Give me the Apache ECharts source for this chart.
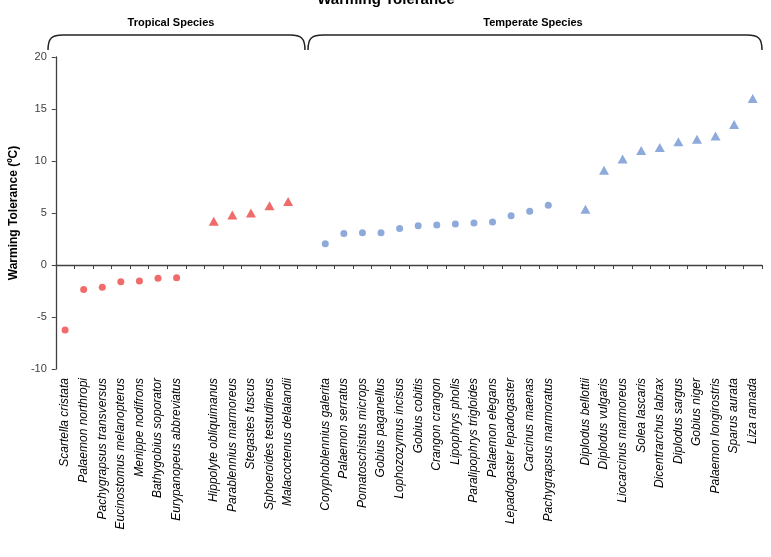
<!DOCTYPE html>
<html>
<head>
<meta charset="utf-8">
<script src="https://cdn.jsdelivr.net/npm/echarts@6/dist/echarts.min.js"></script>
<style>html,body{margin:0;padding:0;background:#fff}#c{width:771px;height:557px}</style>
</head>
<body>
<div id="c"></div>
<script>
// ---- data ----
const tropicalCircleSpecies = ['Scartella cristata','Palaemon northropi','Pachygrapsus transversus','Eucinostomus melanopterus','Menippe nodifrons','Bathygobius soporator','Eurypanopeus abbreviatus'];
const tropicalCircleValues = [-6.25, -2.35, -2.15, -1.62, -1.55, -1.28, -1.22];
const tropicalTriangleSpecies = ['Hippolyte obliquimanus','Parablennius marmoreus','Stegastes fuscus','Sphoeroides testudineus','Malacoctenus delalandii'];
const tropicalTriangleValues = [4.2, 4.8, 5.0, 5.7, 6.1];
const temperateCircleSpecies = ['Coryphoblennius galerita','Palaemon serratus','Pomatoschistus microps','Gobius paganellus','Lophozozymus incisus','Gobius cobitis','Crangon crangon','Lipophrys pholis','Paralipophrys trigloides','Palaemon elegans','Lepadogaster lepadogaster','Carcinus maenas','Pachygrapsus marmoratus'];
const temperateCircleValues = [2.05, 3.02, 3.1, 3.1, 3.5, 3.78, 3.85, 3.94, 4.04, 4.13, 4.74, 5.16, 5.74];
const temperateTriangleSpecies = ['Diplodus bellottii','Diplodus vulgaris','Liocarcinus marmoreus','Solea lascaris','Dicentrarchus labrax','Diplodus sargus','Gobius niger','Palaemon longirostris','Sparus aurata','Liza ramada'];
const temperateTriangleValues = [5.35, 9.1, 10.2, 11.0, 11.3, 11.85, 12.1, 12.4, 13.5, 16.0];
const yTicks = {min: -10, max: 20, interval: 5};
const groupLabels = ['Tropical Species', 'Temperate Species'];
const chartTitle = 'Warming Tolerance';
const yTitle = 'Warming Tolerance (ºC)';

// ---- build categories with a blank slot between groups ----
const groups = [
  [tropicalCircleSpecies, tropicalCircleValues],
  [tropicalTriangleSpecies, tropicalTriangleValues],
  [temperateCircleSpecies, temperateCircleValues],
  [temperateTriangleSpecies, temperateTriangleValues]
];
const categories = [];
const seriesData = [];
groups.forEach((g, gi) => {
  if (gi > 0) categories.push(' '.repeat(gi));
  const d = [];
  g[0].forEach((name, i) => { d.push([categories.length, g[1][i]]); categories.push(name); });
  seriesData.push(d);
});

const RED = '#EE4646';
const BLUE = '#7095D2';
const TRI = 'triangle';
const AXIS = '#404040';

function brace(x1, x2, yTop, yBot) {
  const st = {stroke: '#222', lineWidth: 1.5, fill: null};
  return [
    {type: 'bezierCurve', shape: {x1: x1, y1: yBot, cpx1: x1, cpy1: yTop + 3, cpx2: x1 + 4, cpy2: yTop, x2: x1 + 15, y2: yTop}, style: st},
    {type: 'line', shape: {x1: x1 + 15, y1: yTop, x2: x2 - 15, y2: yTop}, style: st},
    {type: 'bezierCurve', shape: {x1: x2 - 15, y1: yTop, cpx1: x2 - 4, cpy1: yTop, cpx2: x2, cpy2: yTop + 3, x2: x2, y2: yBot}, style: st}
  ];
}

const chart = echarts.init(document.getElementById('c'));
const labelFont = 'Liberation Sans';
chart.setOption({
  animation: false,
  grid: {left: 45, right: 9, top: 57, bottom: 188},
  xAxis: [
    {
      type: 'category', data: categories, boundaryGap: true,
      axisLine: {onZero: true, lineStyle: {color: AXIS, width: 1.3}},
      axisTick: {show: true, interval: 0, length: 4, lineStyle: {color: AXIS}},
      axisLabel: {show: false, interval: 0},
      splitLine: {show: false}
    },
    {
      type: 'category', data: categories, position: 'bottom', boundaryGap: true,
      axisLine: {show: false, onZero: false},
      axisTick: {show: false},
      axisLabel: {show: true, interval: 0, rotate: 90, margin: 9, fontSize: 12, fontStyle: 'italic', color: '#000', fontFamily: labelFont},
      splitLine: {show: false}
    }
  ],
  yAxis: {
    type: 'value', min: yTicks.min, max: yTicks.max, interval: yTicks.interval,
    name: yTitle, nameLocation: 'middle', nameGap: 33,
    nameTextStyle: {fontSize: 12, fontWeight: 'bold', color: '#000', fontFamily: labelFont},
    axisLine: {show: true, onZero: false, lineStyle: {color: AXIS, width: 1.3}},
    axisTick: {show: true, length: 4, lineStyle: {color: AXIS}},
    axisLabel: {fontSize: 11, color: '#404040', margin: 9, fontFamily: labelFont},
    splitLine: {show: false}
  },
  series: [
    {type: 'scatter', data: seriesData[0], symbol: 'circle', symbolSize: 7, itemStyle: {color: RED}},
    {type: 'scatter', data: seriesData[1], symbol: TRI, symbolSize: [10, 9], itemStyle: {color: RED}},
    {type: 'scatter', data: seriesData[2], symbol: 'circle', symbolSize: 7, itemStyle: {color: BLUE}},
    {type: 'scatter', data: seriesData[3], symbol: TRI, symbolSize: [10, 9], itemStyle: {color: BLUE}}
  ],
  graphic: [
    {type: 'text', x: 386, y: 0, style: {text: chartTitle, align: 'center', verticalAlign: 'middle', fontSize: 15, fontWeight: 'bold', fill: '#000', fontFamily: labelFont}},
    {type: 'text', x: 171, y: 23, style: {text: groupLabels[0], align: 'center', verticalAlign: 'middle', fontSize: 11, fontWeight: 'bold', fill: '#000', fontFamily: labelFont}},
    {type: 'text', x: 533, y: 23, style: {text: groupLabels[1], align: 'center', verticalAlign: 'middle', fontSize: 11, fontWeight: 'bold', fill: '#000', fontFamily: labelFont}}
  ].concat(brace(48, 305, 35, 50), brace(308, 762, 35, 50))
});
</script>
</body>
</html>
